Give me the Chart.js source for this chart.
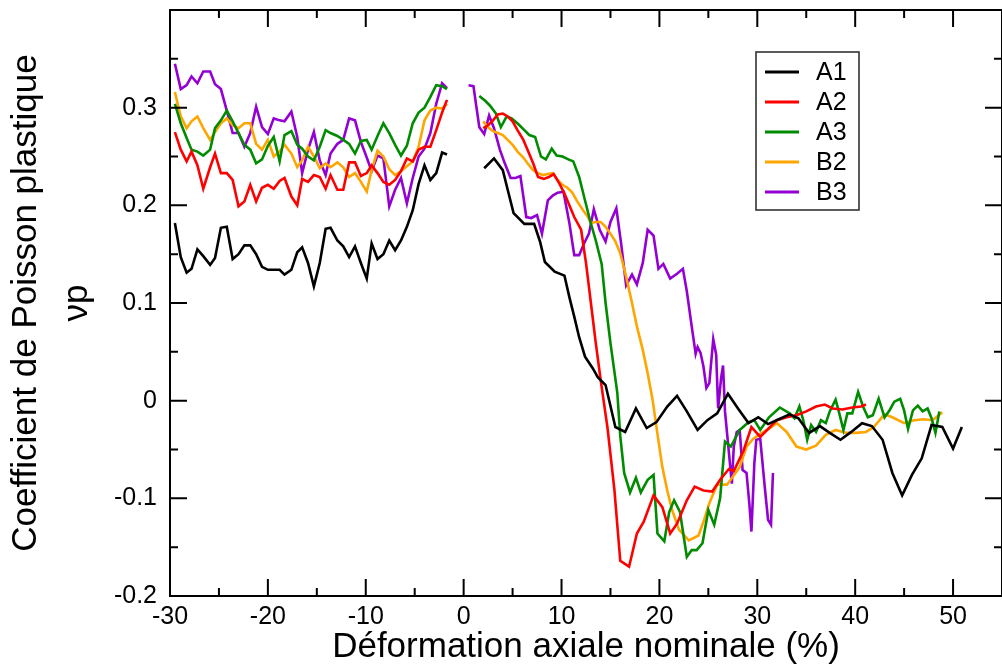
<!DOCTYPE html>
<html><head><meta charset="utf-8">
<script src="https://cdn.jsdelivr.net/npm/chart.js@4.4.1/dist/chart.umd.min.js"></script>
<style>html,body{margin:0;padding:0;background:#fff;}#wrap{width:1002px;height:668px;position:relative;}</style>
</head><body><div id="wrap"><canvas id="c"></canvas></div>
<script>
// ---- data ----
const seriesLabels = ['A1', 'A2', 'A3', 'B2', 'B3'];
const seriesColors = ['#000000', '#ff0000', '#008b00', '#ffa500', '#9400d3'];

// shared strain sampling on the compression (negative) side
const strainNeg = [-29.5,-28.9,-28.3,-27.8,-27.2,-26.6,-25.9,-25.4,-24.8,-24.2,-23.6,-23.0,-22.4,-21.8,-21.2,-20.6,-20.0,-19.4,-18.8,-18.3,-17.6,-17.0,-16.5,-15.9,-15.3,-14.7,-14.1,-13.6,-12.9,-12.3,-11.7,-11.1,-10.5,-9.9,-9.4,-8.8,-8.2,-7.6,-7.0,-6.4,-5.8,-5.2,-4.6,-4.0,-3.4,-2.8,-2.2,-1.7];

const a1Neg = [0.182,0.147,0.131,0.135,0.155,0.148,0.139,0.146,0.177,0.178,0.145,0.150,0.159,0.159,0.150,0.137,0.134,0.134,0.134,0.129,0.134,0.152,0.157,0.141,0.117,0.141,0.176,0.177,0.164,0.158,0.147,0.158,0.141,0.125,0.161,0.145,0.150,0.164,0.154,0.164,0.178,0.195,0.222,0.241,0.226,0.233,0.254,0.252];
const a2Neg = [0.275,0.257,0.245,0.255,0.241,0.217,0.239,0.253,0.233,0.233,0.226,0.199,0.204,0.221,0.204,0.218,0.221,0.217,0.225,0.228,0.209,0.200,0.227,0.224,0.231,0.229,0.217,0.231,0.216,0.216,0.244,0.244,0.230,0.233,0.241,0.233,0.224,0.221,0.226,0.235,0.248,0.245,0.257,0.260,0.260,0.277,0.295,0.308];
const a3Neg = [0.304,0.284,0.269,0.257,0.255,0.251,0.257,0.279,0.287,0.297,0.286,0.274,0.262,0.257,0.243,0.247,0.261,0.270,0.245,0.272,0.276,0.262,0.258,0.250,0.246,0.260,0.277,0.274,0.271,0.267,0.263,0.253,0.266,0.267,0.257,0.271,0.284,0.274,0.262,0.251,0.261,0.284,0.295,0.300,0.311,0.323,0.322,0.319];
const b2Neg = [0.316,0.291,0.279,0.286,0.291,0.279,0.267,0.275,0.284,0.289,0.282,0.279,0.284,0.284,0.263,0.257,0.267,0.250,0.255,0.262,0.253,0.239,0.246,0.260,0.250,0.238,0.243,0.239,0.244,0.239,0.229,0.233,0.224,0.214,0.236,0.256,0.250,0.237,0.231,0.235,0.240,0.245,0.260,0.287,0.297,0.300,0.299,0.304];
const b3Neg = [0.345,0.319,0.323,0.332,0.325,0.337,0.337,0.324,0.319,0.297,0.274,0.274,0.260,0.274,0.301,0.280,0.273,0.289,0.287,0.286,0.296,0.270,0.233,0.257,0.275,0.246,0.231,0.253,0.263,0.267,0.289,0.287,0.265,0.249,0.235,0.251,0.248,0.199,0.216,0.228,0.202,0.228,0.250,0.258,0.274,0.304,0.325,0.320];

// tension (positive) side, one sampling per specimen
const a1PosX = [2.1,3.1,4.0,4.5,5.1,6.2,7.2,7.8,8.3,9.3,10.3,10.8,11.3,11.8,12.4,13.2,13.7,14.5,15.5,16.5,17.6,18.7,19.7,20.8,21.8,22.8,23.9,24.9,25.9,27.0,28.1,29.1,30.1,31.1,32.2,33.3,34.2,35.3,36.4,37.4,38.5,39.6,40.7,41.7,42.8,43.8,44.8,45.8,46.8,47.8,48.9,50.0,50.9];
const a1PosY = [0.238,0.248,0.236,0.216,0.192,0.181,0.181,0.163,0.142,0.132,0.128,0.106,0.086,0.065,0.045,0.033,0.024,0.016,-0.027,-0.032,-0.008,-0.028,-0.022,-0.006,0.005,-0.011,-0.030,-0.020,-0.013,0.007,-0.009,-0.023,-0.017,-0.024,-0.019,-0.014,-0.018,-0.033,-0.026,-0.033,-0.040,-0.032,-0.023,-0.026,-0.040,-0.074,-0.097,-0.076,-0.059,-0.025,-0.027,-0.049,-0.027];

const a2PosX = [2.0,2.5,3.0,3.5,4.0,4.5,5.0,5.5,6.1,6.6,7.1,7.6,8.2,8.7,9.2,9.8,10.3,10.8,11.3,12.0,12.5,13.0,13.5,14.0,14.7,15.4,16.0,16.9,17.7,18.4,19.4,20.3,21.1,21.8,22.8,23.6,24.5,25.4,26.2,27.1,27.6,28.6,29.4,30.3,31.0,32.0,33.0,34.0,35.0,36.0,36.9,37.7,38.7,39.7,40.6,41.1];
const a2PosY = [0.279,0.282,0.287,0.293,0.294,0.291,0.286,0.277,0.267,0.255,0.243,0.229,0.227,0.229,0.232,0.222,0.212,0.200,0.188,0.175,0.141,0.100,0.059,0.021,-0.028,-0.091,-0.164,-0.170,-0.136,-0.124,-0.097,-0.109,-0.136,-0.126,-0.102,-0.088,-0.092,-0.093,-0.081,-0.070,-0.072,-0.051,-0.027,-0.037,-0.030,-0.020,-0.017,-0.015,-0.011,-0.006,-0.004,-0.008,-0.009,-0.007,-0.006,-0.004];

const a3PosX = [1.6,2.2,2.7,3.3,3.8,4.4,4.9,5.6,6.2,6.7,7.3,7.9,8.4,9.0,9.5,10.1,10.7,11.2,11.8,12.3,12.9,13.5,14.1,14.5,15.0,15.7,16.0,16.4,17.0,17.6,18.1,18.8,19.4,19.8,20.5,21.0,21.5,22.1,22.8,23.3,23.8,24.4,25.0,25.6,26.2,26.7,27.3,28.2,29.1,29.7,30.3,31.2,32.3,33.3,33.8,34.3,34.7,35.1,35.5,36.0,36.5,37.0,37.4,38.0,38.3,38.8,39.2,39.7,40.3,40.8,41.3,41.8,42.4,43.0,43.5,44.0,44.6,45.0,45.4,45.9,46.4,46.9,47.4,47.8,48.2,48.6];
const a3PosY = [0.312,0.307,0.302,0.294,0.280,0.291,0.289,0.283,0.277,0.272,0.270,0.250,0.247,0.258,0.251,0.250,0.247,0.245,0.229,0.209,0.185,0.164,0.140,0.100,0.059,0.008,-0.036,-0.074,-0.094,-0.079,-0.094,-0.081,-0.076,-0.136,-0.144,-0.114,-0.102,-0.114,-0.160,-0.153,-0.153,-0.146,-0.112,-0.127,-0.100,-0.042,-0.047,-0.030,-0.022,-0.020,-0.030,-0.017,-0.007,-0.013,-0.018,-0.006,-0.020,-0.040,-0.025,-0.032,-0.020,-0.023,-0.011,0.001,-0.010,-0.030,-0.013,-0.013,0.009,-0.006,-0.017,-0.015,0.002,-0.017,-0.010,-0.001,0.002,-0.010,-0.029,-0.010,-0.005,-0.011,-0.008,-0.018,-0.033,-0.011];

const b2PosX = [2.0,2.5,3.0,3.5,4.0,4.5,5.0,5.5,6.1,6.6,7.1,7.6,8.1,8.6,9.1,9.6,10.1,10.6,11.1,11.6,12.2,12.7,13.0,13.5,14.0,14.5,15.0,15.5,16.0,16.6,17.2,17.7,18.3,18.8,19.3,19.8,20.3,20.8,21.3,22.0,23.0,24.0,24.5,25.1,25.9,26.9,27.5,28.2,28.9,29.6,30.3,31.0,32.0,33.0,34.0,35.0,36.0,37.0,38.0,39.1,40.1,41.1,41.9,43.0,43.8,45.0,46.0,47.0,47.9,48.9];
const b2PosY = [0.286,0.280,0.276,0.274,0.272,0.267,0.262,0.255,0.249,0.242,0.236,0.233,0.231,0.232,0.233,0.226,0.221,0.218,0.213,0.204,0.195,0.188,0.182,0.183,0.183,0.178,0.171,0.163,0.151,0.127,0.100,0.076,0.052,0.028,0.001,-0.034,-0.068,-0.092,-0.112,-0.132,-0.143,-0.138,-0.124,-0.105,-0.086,-0.086,-0.078,-0.068,-0.047,-0.039,-0.034,-0.030,-0.023,-0.032,-0.047,-0.050,-0.046,-0.035,-0.030,-0.033,-0.033,-0.032,-0.027,-0.014,-0.017,-0.023,-0.020,-0.019,-0.020,-0.012];

const b3PosX = [0.5,1.0,1.6,2.1,2.6,3.1,3.7,4.2,4.8,5.3,5.8,6.4,6.9,7.5,8.0,8.6,9.1,9.6,10.2,10.8,11.3,11.8,12.3,12.8,13.3,13.9,14.5,15.0,15.6,16.1,16.6,17.2,17.7,18.3,18.8,19.4,19.9,20.4,21.1,21.8,22.4,22.8,23.3,23.7,23.9,24.2,24.5,24.8,25.1,25.5,25.8,26.0,26.3,26.5,26.7,27.4,27.6,27.9,28.2,28.5,28.9,29.2,29.4,29.7,29.9,30.3,30.6,30.8,31.1,31.4,31.6];
const b3PosY = [0.323,0.322,0.280,0.273,0.292,0.279,0.257,0.243,0.228,0.228,0.230,0.188,0.187,0.190,0.171,0.205,0.210,0.213,0.214,0.182,0.149,0.149,0.161,0.171,0.196,0.175,0.163,0.183,0.197,0.160,0.118,0.129,0.119,0.141,0.175,0.169,0.135,0.140,0.125,0.130,0.135,0.112,0.076,0.048,0.055,0.049,0.035,0.013,0.018,0.063,0.047,-0.008,0.023,0.036,-0.011,-0.085,-0.047,-0.032,-0.030,-0.071,-0.074,-0.107,-0.134,-0.064,-0.040,-0.039,-0.071,-0.092,-0.122,-0.127,-0.074];

const xTitle = 'Déformation axiale nominale (%)';
const yTitle = ['Coefficient de Poisson plastique', 'νp'];

// ---- build datasets ----
function buildPoints(negY, posX, posY) {
  const pts = strainNeg.map((x, i) => ({x: x, y: negY[i]}));
  pts.push({x: 0, y: null}); // gap between the two test halves
  posX.forEach((x, i) => pts.push({x: x, y: posY[i]}));
  return pts;
}
const seriesData = [
  buildPoints(a1Neg, a1PosX, a1PosY),
  buildPoints(a2Neg, a2PosX, a2PosY),
  buildPoints(a3Neg, a3PosX, a3PosY),
  buildPoints(b2Neg, b2PosX, b2PosY),
  buildPoints(b3Neg, b3PosX, b3PosY)
];

const FONT = "'Liberation Sans', Arial, Helvetica, sans-serif";

// frame with inward major/minor ticks on all four sides
const frameTicks = {
  id: 'frameTicks',
  afterDatasetsDraw(chart) {
    const {ctx, chartArea: a, scales: {x, y}} = chart;
    ctx.save();
    ctx.strokeStyle = '#000';
    ctx.lineWidth = 2;
    ctx.beginPath();
    ctx.rect(a.left, a.top, a.right - a.left, a.bottom - a.top);
    const maj = 17, mnr = 8;
    const xt = x.ticks.map(t => t.value);
    const xStep = xt[1] - xt[0];
    const xVals = [];
    xt.forEach(v => { xVals.push([v, maj]); xVals.push([v + xStep / 2, mnr]); });
    xVals.forEach(([v, len]) => {
      if (v < x.min || v > x.max) return;
      const px = x.getPixelForValue(v);
      ctx.moveTo(px, a.bottom); ctx.lineTo(px, a.bottom - len);
      ctx.moveTo(px, a.top); ctx.lineTo(px, a.top + len);
    });
    const yt = y.ticks.map(t => t.value);
    const yStep = yt[1] - yt[0];
    const yVals = [];
    yt.forEach(v => { yVals.push([v, maj]); yVals.push([v + yStep / 2, mnr]); });
    yVals.forEach(([v, len]) => {
      if (v < y.min - 1e-9 || v > y.max + 1e-9) return;
      const py = y.getPixelForValue(v);
      ctx.moveTo(a.left, py); ctx.lineTo(a.left + len, py);
      ctx.moveTo(a.right, py); ctx.lineTo(a.right - len, py);
    });
    ctx.stroke();
    ctx.restore();
  }
};

// boxed legend inside the plot, upper right
const boxLegend = {
  id: 'boxLegend',
  afterDraw(chart) {
    const {ctx} = chart;
    const bx = 756, by = 52, bw = 103, bh = 158;
    ctx.save();
    ctx.fillStyle = '#fff';
    ctx.fillRect(bx, by, bw, bh);
    ctx.strokeStyle = '#333';
    ctx.lineWidth = 1.6;
    ctx.strokeRect(bx, by, bw, bh);
    ctx.font = '25px ' + FONT;
    ctx.textBaseline = 'middle';
    ctx.textAlign = 'left';
    chart.data.datasets.forEach((ds, i) => {
      const cy = by + 20 + i * 30;
      ctx.strokeStyle = ds.borderColor;
      ctx.lineWidth = 3;
      ctx.beginPath();
      ctx.moveTo(bx + 9, cy); ctx.lineTo(bx + 43, cy);
      ctx.stroke();
      ctx.fillStyle = '#000';
      ctx.fillText(ds.label, bx + 60, cy + 1);
    });
    ctx.restore();
  }
};

new Chart(document.getElementById('c'), {
  type: 'scatter',
  data: {
    datasets: seriesLabels.map((lab, i) => ({
      label: lab,
      data: seriesData[i],
      showLine: true,
      spanGaps: false,
      borderColor: seriesColors[i],
      backgroundColor: seriesColors[i],
      borderWidth: 2.6,
      pointRadius: 0,
      tension: 0
    }))
  },
  options: {
    responsive: true,
    maintainAspectRatio: false,
    animation: false,
    layout: {padding: {top: 10, right: -5, bottom: 0, left: 0}},
    plugins: {legend: {display: false}, tooltip: {enabled: false}},
    scales: {
      x: {
        type: 'linear', min: -30, max: 55,
        grid: {display: false, drawTicks: false}, border: {display: false},
        ticks: {stepSize: 10, includeBounds: false, padding: 6, color: '#000',
          font: {family: FONT, size: 25},
          callback: v => String(Math.round(v))},
        title: {display: true, text: xTitle, color: '#000',
          font: {family: FONT, size: 35}, padding: {top: 0, bottom: 0}},
        afterFit: s => { s.height = 72; s.paddingLeft = 0; s.paddingRight = 0; }
      },
      y: {
        type: 'linear', min: -0.2, max: 0.4,
        grid: {display: false, drawTicks: false}, border: {display: false},
        ticks: {stepSize: 0.1, includeBounds: false, padding: 13, color: '#000',
          font: {family: FONT, size: 25},
          callback: v => { const r = Math.round(v * 10) / 10; return r > 0.35 ? '' : String(r); }},
        title: {display: true, text: yTitle, color: '#000',
          font: {family: FONT, size: 35, lineHeight: 1.45}, padding: {top: 1, bottom: 0}},
        afterFit: s => { s.width = 170; s.paddingTop = 0; s.paddingBottom = 0; }
      }
    }
  },
  plugins: [frameTicks, boxLegend]
});
</script>
</body></html>
